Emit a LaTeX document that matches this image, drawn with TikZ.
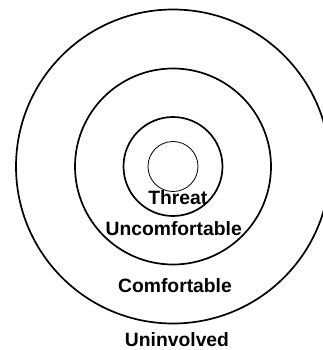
\documentclass[tikz,border=0pt]{standalone}
\usepackage{fontspec}
\setmainfont{Liberation Sans}
\usepackage{tikz}
\usetikzlibrary{positioning}

\begin{document}
\begin{tikzpicture}[x=1pt,y=1pt]
  \tikzset{ring/.style={draw=black,line width=1.7pt},
           zonelabel/.style={font=\fontsize{19.3}{21}\selectfont\bfseries,anchor=base,inner sep=0pt}}
  \clip (-173,-183.5) rectangle (150,166.5);
  \useasboundingbox (-173,-183.5) rectangle (150,166.5);
  \foreach \r in {157,98,49.5} {
    \draw[ring] (0,0) circle (\r);
  }
  \draw[line width=0.8pt] (0,0) circle (25);
  \node[zonelabel] (threat) at (4.8,-37.8) {Threat};
  \node[zonelabel] (uncomf) at (0.7,-68.5) {Uncomfortable};
  \node[zonelabel] (comf) at (2,-126.2) {Comfortable};
  \node[zonelabel] (uninv) at (4,-180.2) {Uninvolved};
\end{tikzpicture}
\end{document}
